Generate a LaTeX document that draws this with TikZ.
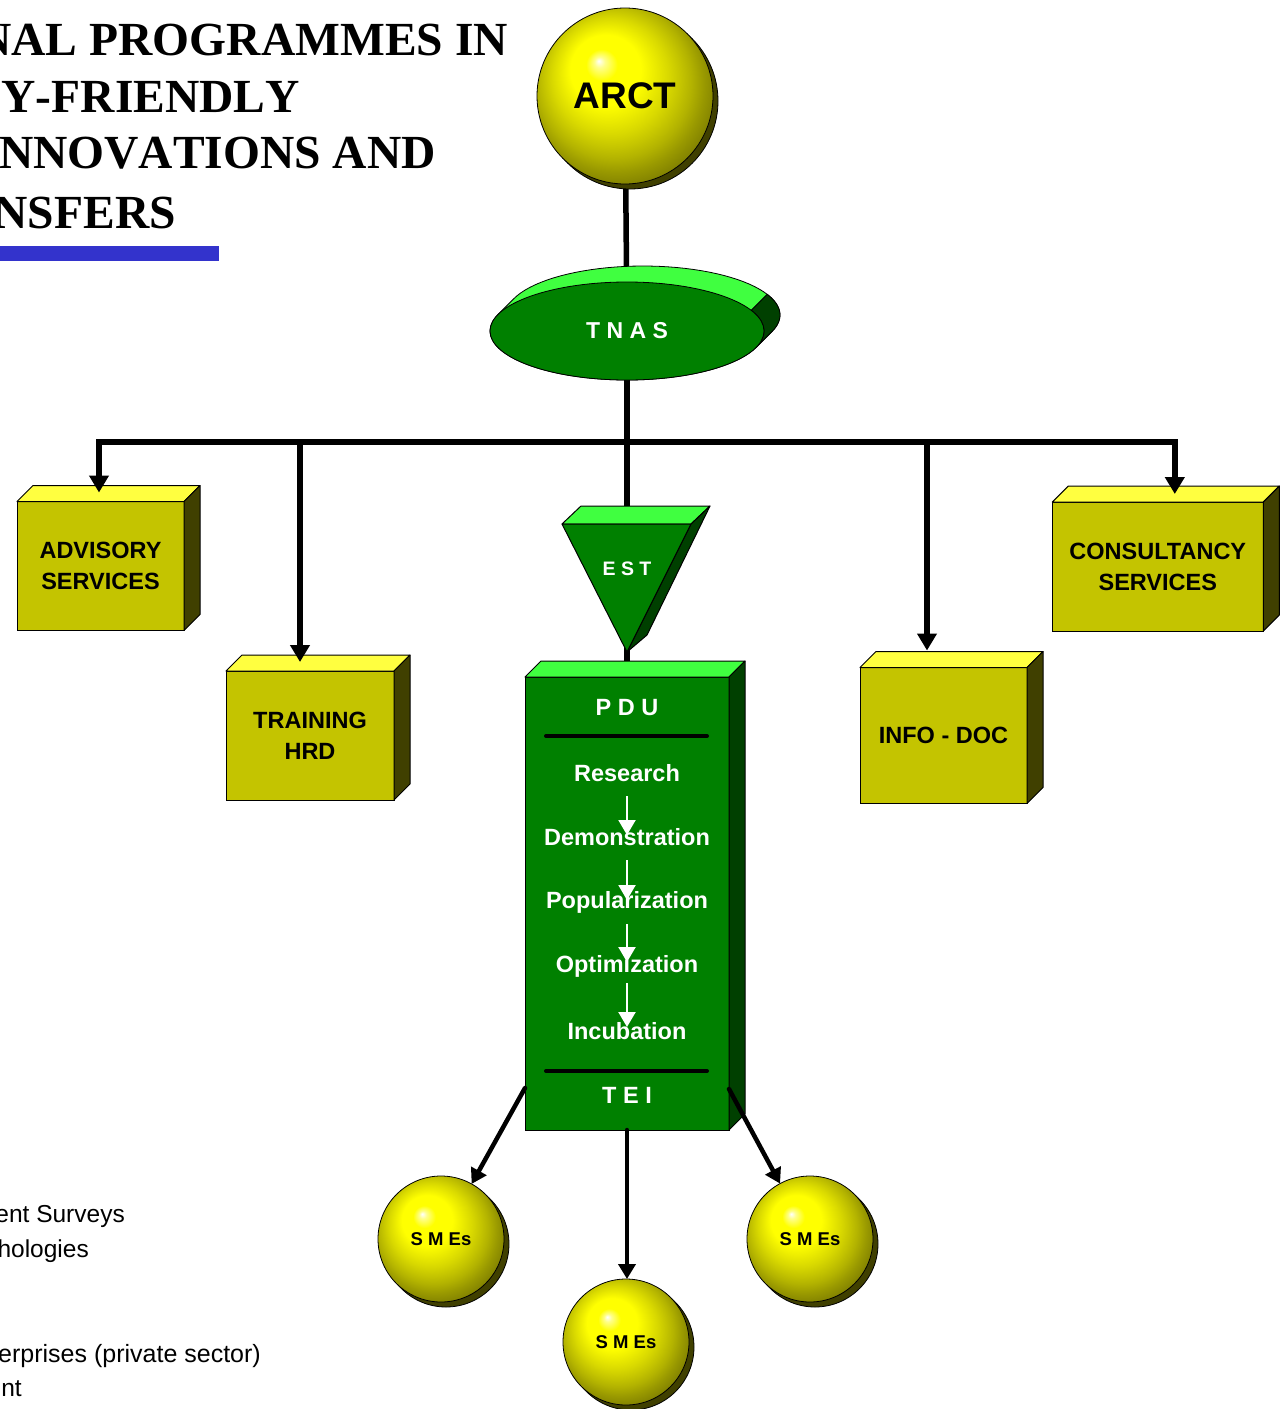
\documentclass[tikz,border=0pt]{standalone}
\usepackage{fontspec}
\setmainfont{Liberation Sans}
\newfontfamily\titlefont[Kerning=Off]{Liberation Serif}
\usetikzlibrary{shapes.geometric,arrows.meta,calc,backgrounds}

\definecolor{boxfront}{RGB}{196,196,0}
\definecolor{boxtop}{RGB}{255,255,64}
\definecolor{boxside}{RGB}{64,64,0}
\definecolor{gfront}{RGB}{0,128,0}
\definecolor{gtop}{RGB}{64,255,64}
\definecolor{gside}{RGB}{0,64,0}
\definecolor{titlebar}{RGB}{51,51,204}

\pgfdeclareradialshading{ysphere}{\pgfpoint{-7.5bp}{10bp}}{%
  color(0bp)=(white); color(1.5bp)=(white!55!yellow); color(4.5bp)=(yellow);
  color(10bp)=(yellow); color(13.5bp)=(yellow!92!black); color(16.5bp)=(yellow!85!black);
  color(19.5bp)=(yellow!77!black); color(22bp)=(yellow!70!black);
  color(25bp)=(yellow!60!black); color(28.5bp)=(yellow!50!black);
  color(38bp)=(yellow!40!black)}

\newcommand\drawcube[3]{%
  \filldraw[fill=#2, draw=black, line width=1pt, line join=round]
    (#1.north west) -- ++(16,-16) -- ([shift={(16,-16)}]#1.north east) -- (#1.north east) -- cycle;
  \filldraw[fill=#3, draw=black, line width=1pt, line join=round]
    (#1.north east) -- ++(16,-16) -- ([shift={(16,-16)}]#1.south east) -- (#1.south east) -- cycle;}

\begin{document}
\begin{tikzpicture}[x=1pt,y=-1pt,
  ybox/.style={draw=black, line width=1pt, fill=boxfront, outer sep=0pt, inner sep=0pt,
    align=center, font=\fontsize{23.5}{31}\selectfont\bfseries},
  conn/.style={line width=5.5pt, line cap=round},
  arr/.style={conn, -{Triangle[length=17pt,width=19pt]}},
  smearr/.style={line width=4.5pt, line cap=round, -{Triangle[length=15pt,width=17pt]}},
  warr/.style={white, line width=2.2pt, -{Triangle[length=15pt,width=17pt]}},
  pdutxt/.style={text=white, font=\fontsize{23.5}{28}\selectfont\bfseries, inner sep=0pt},
  sphere/.style={circle, draw=black, line width=0.8pt, shade, shading=ysphere, inner sep=0pt, outer sep=0pt},
  sphshadow/.style={fill=boxside, draw=black, line width=0.8pt},
  titletxt/.style={anchor=base east, inner sep=0pt, font=\titlefont\bfseries\fontsize{47.5}{57}\selectfont},
  sidetxt/.style={anchor=base east, inner sep=0pt, font=\fontsize{24.5}{30}\selectfont},
  sepline/.style={line width=4pt, line cap=round}
]
\useasboundingbox (0,0) rectangle (1284,1409);

% ---------- title ----------
\node[titletxt] (t1) at (508,55) {NAL PROGRAMMES IN};
\node[titletxt] (t2) at (300,112) {Y-FRIENDLY};
\node[titletxt] (t3) at (436,168) {NNOVATIONS AND};
\node[titletxt] (t4) at (176,228) {NSFERS};
\fill[titlebar] (0,246) rectangle (219,261);

% ---------- side text ----------
\node[sidetxt] (s1) at (125,1222) {ent Surveys};
\node[sidetxt] (s2) at (89,1257) {hologies};
\node[sidetxt, font=\fontsize{25}{30}\selectfont] (s3) at (261,1362) {erprises (private sector)};
\node[sidetxt] (s4) at (22,1396) {nt};

% ---------- ARCT ----------
\filldraw[sphshadow] (630,101) circle (88pt);
\node[sphere, minimum size=176pt, font=\fontsize{37}{40}\selectfont\bfseries] (arct) at (625,96) {ARCT};

% ---------- TNAS ----------
\filldraw[fill=gtop, draw=black, line width=0.8pt]
  plot[domain=-160.3:19.7, samples=50] ({643+137*cos(\x)},{315+49*sin(\x)})
  -- plot[domain=19.7:199.7, samples=50] ({627+137*cos(\x)},{331+49*sin(\x)}) -- cycle;
\filldraw[fill=gside, draw=black, line width=0.8pt]
  plot[domain=-25:19.7, samples=20] ({643+137*cos(\x)},{315+49*sin(\x)})
  -- plot[domain=19.7:-25, samples=20] ({627+137*cos(\x)},{331+49*sin(\x)}) -- cycle;
\node[ellipse, draw=black, line width=0.8pt, fill=gfront, minimum width=274pt, minimum height=98pt,
  inner sep=0pt, outer sep=0pt, text=white, font=\fontsize{23}{26}\selectfont\bfseries] (tnas) at (627,331) {T N A S};

\coordinate (j) at (627,442);

% ---------- EST ----------
\filldraw[fill=gtop, draw=black, line width=1pt, line join=round] (562,524) -- (581,506) -- (710,506) -- (691,524) -- cycle;
\filldraw[fill=gside, draw=black, line width=1pt, line join=round] (691,524) -- (710,506) -- (647,635) -- (627,652) -- cycle;
\filldraw[fill=gfront, draw=black, line width=1pt, line join=round] (562,524) -- (691,524) -- (627,652) -- cycle;
\node[text=white, inner sep=0pt, font=\fontsize{19.5}{22}\selectfont\bfseries] (est) at (627,569) {E S T};

% ---------- boxes ----------
\node[ybox, minimum width=167pt, minimum height=129pt] (adv) at (100.5,566) {ADVISORY\\SERVICES};
\drawcube{adv}{boxtop}{boxside}
\node[ybox, minimum width=168pt, minimum height=129pt] (train) at (310,735.5) {TRAINING\\HRD};
\drawcube{train}{boxtop}{boxside}
\node[ybox, minimum width=167pt, minimum height=136pt] (info) at (943.5,735.5) {INFO - DOC};
\drawcube{info}{boxtop}{boxside}
\node[ybox, minimum width=211pt, minimum height=129pt] (cons) at (1157.8,566.5) {CONSULTANCY\\SERVICES};
\drawcube{cons}{boxtop}{boxside}

% ---------- PDU ----------
\node[draw=black, line width=1pt, fill=gfront, minimum width=204pt, minimum height=453pt,
  inner sep=0pt, outer sep=0pt] (pdu) at (627,903.5) {};
\drawcube{pdu}{gtop}{gside}
\node[pdutxt] (pdul) at (627,708) {P D U};
\draw[sepline] (546,736) -- (707,736);
\node[pdutxt] (res) at (627,773) {Research};
\node[pdutxt] (demo) at (627,837) {Demonstration};
\node[pdutxt] (pop) at (627,902) {Popularization};
\node[pdutxt] (opt) at (627,966) {Optimization};
\node[pdutxt] (inc) at (627,1031) {Incubation};
\draw[sepline] (546,1071) -- (707,1071);
\node[pdutxt] (tei) at (627,1095) {T E I};
\draw[warr] ([yshift=-23pt]res.center) -- ([yshift=2pt]demo.center);
\draw[warr] ([yshift=-23pt]demo.center) -- ([yshift=2pt]pop.center);
\draw[warr] ([yshift=-22pt]pop.center) -- ([yshift=4pt]opt.center);
\draw[warr] ([yshift=-17pt]opt.center) -- ([yshift=4pt]inc.center);

% ---------- SMEs ----------
\filldraw[sphshadow] (446,1244) circle (63pt);
\node[sphere, minimum size=126pt, font=\fontsize{18.5}{20}\selectfont\bfseries] (sme1) at (441,1239) {S M Es};
\filldraw[sphshadow] (815,1244) circle (63pt);
\node[sphere, minimum size=126pt, font=\fontsize{18.5}{20}\selectfont\bfseries] (sme2) at (810,1239) {S M Es};
\filldraw[sphshadow] (631,1347) circle (63pt);
\node[sphere, minimum size=126pt, font=\fontsize{18.5}{20}\selectfont\bfseries] (sme3) at (626,1342) {S M Es};

% ---------- connectors ----------
\begin{pgfonlayer}{background}
\draw[conn] (arct) -- (tnas);
\draw[conn] (tnas) -- (j);
\draw[conn] (j) -- (est);
\draw[conn] (est) -- (pdu);
\end{pgfonlayer}
\draw[arr] (j) -| ([xshift=-1.5pt,yshift=9pt]adv.north);
\draw[arr] (j) -| ([xshift=-10pt,yshift=9pt]train.north);
\draw[arr] (j) -| ([xshift=-16.5pt,yshift=17pt]info.north);
\draw[arr] (j) -| ([xshift=17pt,yshift=8pt]cons.north);
\draw[smearr] ([yshift=42pt]pdu.south west) -- (sme1);
\draw[smearr] ([yshift=41pt]pdu.south east) -- (sme2);
\draw[smearr] (pdu.south) -- (pdu.south |- sme3.north);
\end{tikzpicture}
\end{document}
